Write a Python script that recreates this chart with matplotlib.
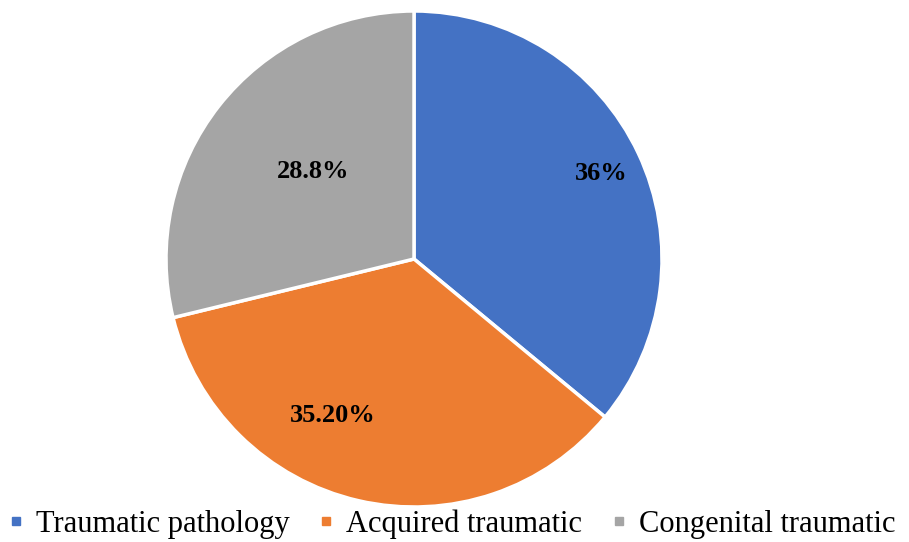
import numpy as np
import matplotlib.pyplot as plt
from matplotlib.lines import Line2D

categories = ["Traumatic pathology", "Acquired traumatic", "Congenital traumatic"]
values = [36.0, 35.2, 28.8]
pct_labels = ["36%", "35.20%", "28.8%"]
colors = ["#4472C4", "#ED7D31", "#A5A5A5"]

# label placement (fraction of radius, angle in degrees)
label_pos = [(0.83, 24.4), (0.71, -117.5), (0.54, 139.0)]

plt.rcParams['font.family'] = ['Liberation Serif', 'DejaVu Serif']

fig = plt.figure(figsize=(9.09, 5.42), dpi=100)
ax = fig.add_axes([0.1826, 0.0646, 0.5457, 0.9151])

wedges, _ = ax.pie(values, colors=colors, startangle=90, counterclock=False,
                   wedgeprops=dict(edgecolor='white', linewidth=2.5))
ax.set_aspect('equal')
ax.set_xlim(-1, 1)
ax.set_ylim(-1, 1)

for txt, (r, a) in zip(pct_labels, label_pos):
    ax.text(r * np.cos(np.radians(a)), r * np.sin(np.radians(a)), txt,
            ha='center', va='center', fontsize=19, fontweight='bold', color='black')

handles = [Line2D([0], [0], marker='s', linestyle='none', markersize=6,
                  markerfacecolor=c, markeredgecolor=c) for c in colors]
fig.legend(handles, categories, loc='center', bbox_to_anchor=(0.497, 0.033),
           ncol=3, frameon=False, fontsize=22, handlelength=0.5,
           handletextpad=0.4, columnspacing=0.95)

fig.savefig("out.png", dpi=100)
